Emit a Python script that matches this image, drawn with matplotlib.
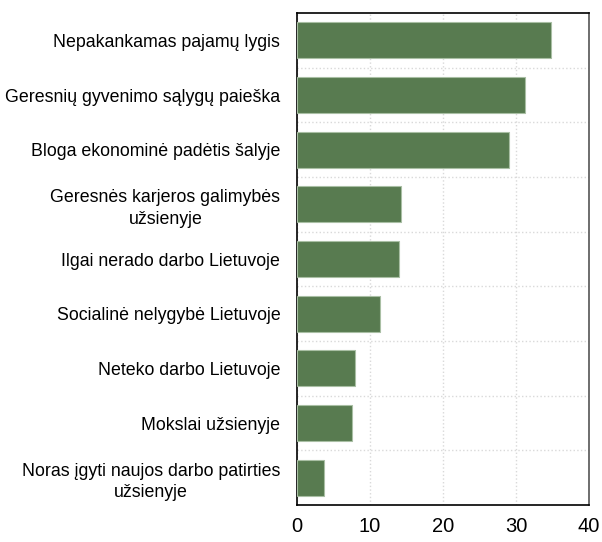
import numpy as np
import matplotlib.pyplot as plt
from matplotlib.ticker import FixedLocator

plt.rcParams['font.family'] = ['Liberation Sans', 'DejaVu Sans']

# priezastys ir reiksmes (%)
priezastys = [
    'Nepakankamas pajamų lygis',
    'Geresnių gyvenimo sąlygų paieška',
    'Bloga ekonominė padėtis šalyje',
    'Geresnės karjeros galimybės\nužsienyje',
    'Ilgai nerado darbo Lietuvoje',
    'Socialinė nelygybė Lietuvoje',
    'Neteko darbo Lietuvoje',
    'Mokslai užsienyje',
    'Noras įgyti naujos darbo patirties\nužsienyje',
]
reiksmes = [34.8, 31.3, 29.1, 14.2, 14.0, 11.4, 7.9, 7.6, 3.7]
x_ticks = [0, 10, 20, 30, 40]

fig = plt.figure(figsize=(6.02, 5.42), dpi=100)
ax = fig.add_axes([297/602, 37/542, 292/602, 492/542])

y = np.arange(len(priezastys))
ax.barh(y, reiksmes, height=0.66, color='#587b50', edgecolor='#a9bfa4', linewidth=0.8, zorder=3)

ax.set_ylim(len(priezastys) - 0.5, -0.5)
ax.set_xlim(0, 40)
ax.set_yticks(y)
ax.set_yticklabels(priezastys, fontsize=12.8, ha='right', multialignment='center',
                   linespacing=1.35)
ax.tick_params(axis='y', length=0, pad=12)
ax.set_xticks(x_ticks)
ax.tick_params(axis='x', length=0, labelsize=14.5, pad=9)

ax.yaxis.set_minor_locator(FixedLocator(np.arange(0.5, len(priezastys) - 1, 1)))
ax.tick_params(axis='y', which='minor', length=0)
ax.grid(axis='x', which='major', color='#d9d9d9', linestyle=':', linewidth=1.0, zorder=0)
ax.grid(axis='y', which='minor', color='#d9d9d9', linestyle=':', linewidth=1.0, zorder=0)

for s in ['left', 'bottom', 'top']:
    ax.spines[s].set_color('black')
    ax.spines[s].set_linewidth(1.2)
ax.spines['right'].set_color('#555555')
ax.spines['right'].set_linewidth(1.2)

fig.savefig('out.png', dpi=100)
